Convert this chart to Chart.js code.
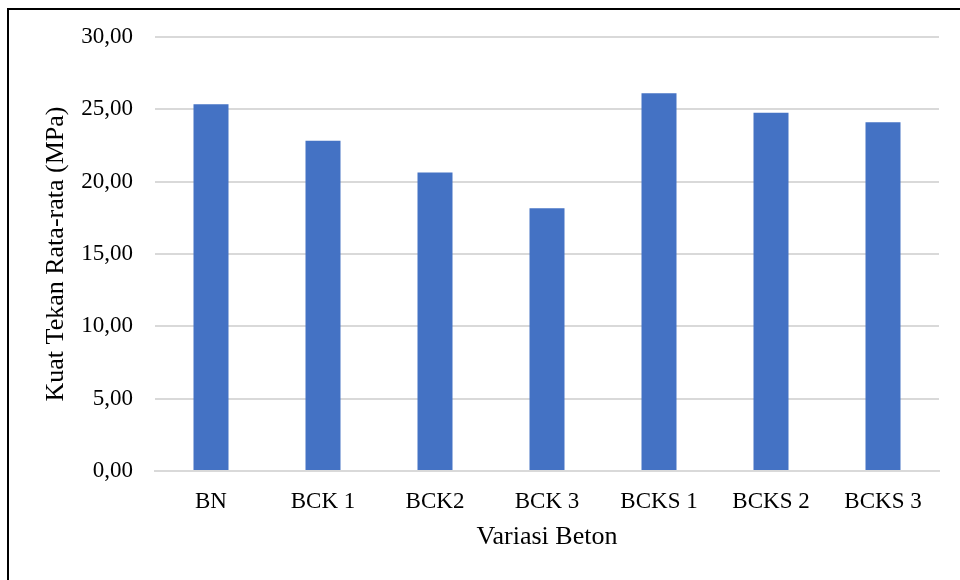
<!DOCTYPE html>
<html lang="en">
<head>
    <meta charset="UTF-8" />
    <title>Kuat Tekan Rata-rata</title>
    <script src="https://cdn.jsdelivr.net/npm/chart.js"></script>
    <style>
        body { margin: 0; background: #fff; }
        #wrap { position: relative; width: 960px; height: 580px; overflow: hidden; }
        /* frame around the figure, right and bottom edges fall outside the picture */
        #frame {
            position: absolute; left: 7px; top: 8px;
            width: 1200px; height: 900px;
            border: 2px solid #000;
        }
        #chart { position: absolute; left: 0; top: 0; }
    </style>
</head>
<body>
    <div id="wrap">
        <div id="frame"></div>
        <canvas id="chart" width="960" height="580"></canvas>
    </div>

    <script>
        const categories = ["BN", "BCK 1", "BCK2", "BCK 3", "BCKS 1", "BCKS 2", "BCKS 3"];
        const kuatTekan = [25.36, 22.82, 20.63, 18.16, 26.12, 24.76, 24.11];
        const yTicks = [0, 5, 10, 15, 20, 25, 30];

        const serif = "'Liberation Serif', 'Times New Roman', serif";

        new Chart(document.getElementById("chart"), {
            type: "bar",
            data: {
                labels: categories,
                datasets: [{
                    label: "Kuat Tekan Rata-rata (MPa)",
                    data: kuatTekan,
                    backgroundColor: "#4472C4",
                    categoryPercentage: 1,
                    barPercentage: 0.3125,
                }],
            },
            options: {
                responsive: false,
                animation: false,
                layout: { padding: { left: 0, top: 37, right: 21, bottom: 27 } },
                plugins: {
                    legend: { display: false },
                    tooltip: { enabled: false },
                },
                scales: {
                    x: {
                        grid: { display: false, drawTicks: false },
                        border: { color: "#d9d9d9", width: 2 },
                        ticks: { color: "#000", padding: 17, font: { family: serif, size: 23 } },
                        title: {
                            display: true, text: "Variasi Beton", color: "#000",
                            font: { family: serif, size: 26 }, padding: 0,
                        },
                        afterFit: (scale) => { scale.height = 82; },
                    },
                    y: {
                        min: 0,
                        max: 30,
                        afterBuildTicks: (scale) => { scale.ticks = yTicks.map(v => ({ value: v })); },
                        grid: { color: "#d9d9d9", lineWidth: 2, drawTicks: false },
                        border: { display: false },
                        ticks: {
                            color: "#000", padding: 22,
                            font: { family: serif, size: 23 },
                            callback: (v) => v.toFixed(2).replace(".", ","),
                        },
                        title: {
                            display: true, text: "Kuat Tekan Rata-rata (MPa)", color: "#000",
                            font: { family: serif, size: 26 }, padding: { top: 41, bottom: 0 },
                        },
                        afterFit: (scale) => { scale.width = 155; },
                    },
                },
            },
        });
    </script>
</body>
</html>
